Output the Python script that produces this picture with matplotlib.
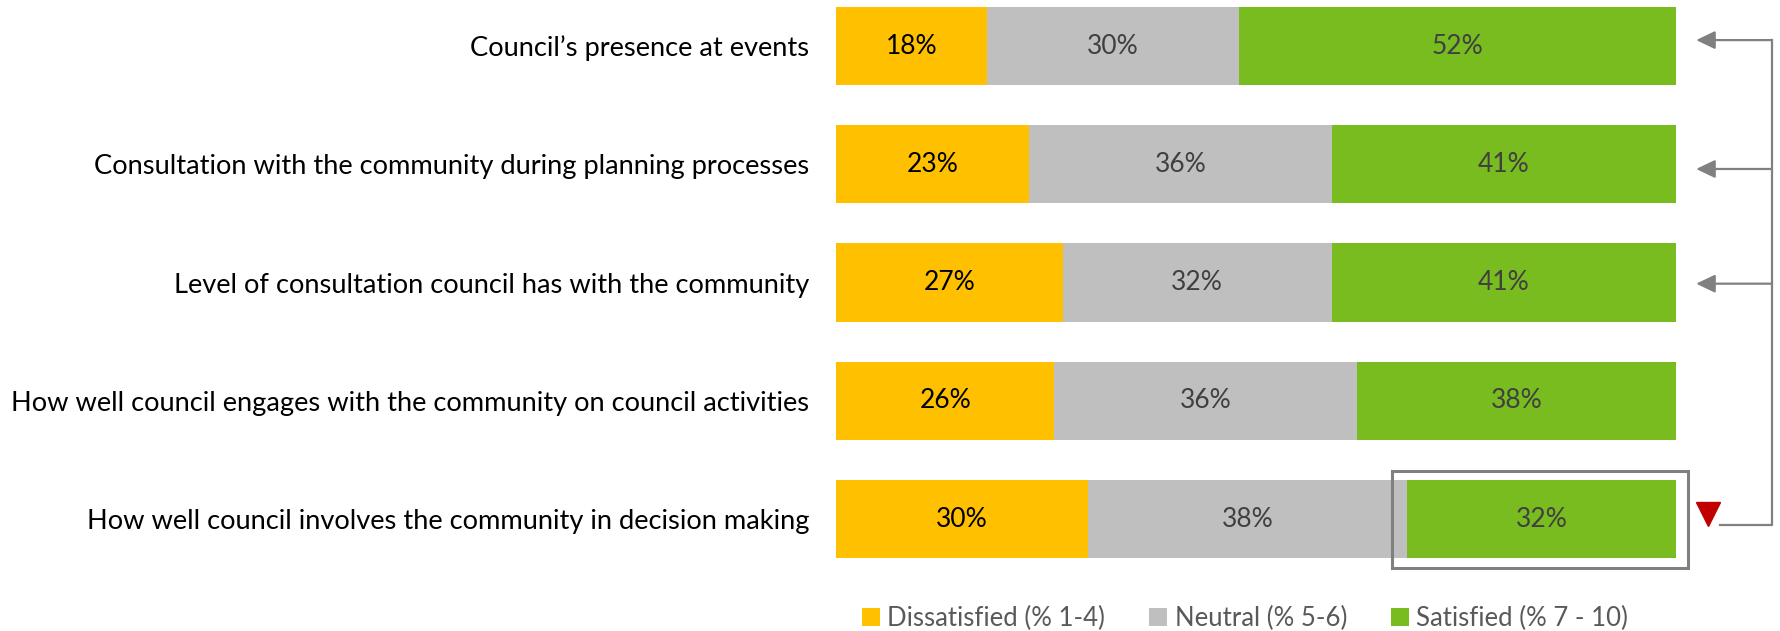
import matplotlib.pyplot as plt
from matplotlib.patches import Rectangle, Patch

categories = [
    "Council\u2019s presence at events",
    "Consultation with the community during planning processes",
    "Level of consultation council has with the community",
    "How well council engages with the community on council activities",
    "How well council involves the community in decision making",
]
dissatisfied = [18, 23, 27, 26, 30]
neutral = [30, 36, 32, 36, 38]
satisfied = [52, 41, 41, 38, 32]
series_names = ["Dissatisfied (% 1-4)", "Neutral (% 5-6)", "Satisfied (% 7 - 10)"]
colors = ["#FFC000", "#BFBFBF", "#78BC1F"]
text_colors = ["#000000", "#404040", "#404040"]

plt.rcParams['font.family'] = ['Lato', 'DejaVu Sans']

fig = plt.figure(figsize=(17.81, 6.31), dpi=100)
ax = fig.add_axes([836 / 1781, 0, 840 / 1781, 1])

y = list(range(len(categories)))
left = [0] * len(categories)
for vals, col, tcol in zip([dissatisfied, neutral, satisfied], colors, text_colors):
    bars = ax.barh(y, vals, left=left, height=0.66, color=col, edgecolor='none')
    for b, v in zip(bars, vals):
        ax.text(b.get_x() + b.get_width() / 2, b.get_y() + b.get_height() / 2,
                f"{v}%", ha='center', va='center', fontsize=19, color=tcol)
    left = [l + v for l, v in zip(left, vals)]

ax.set_xlim(0, 100)
ax.set_ylim(4.947, -0.389)
ax.set_yticks(y)
ax.set_yticklabels(categories, fontsize=19.6, color='#000000')
ax.tick_params(axis='y', length=0, pad=19)
ax.set_xticks([])
for s in ax.spines.values():
    s.set_visible(False)

# highlight box around the last satisfied segment
last = len(categories) - 1
box_x0 = dissatisfied[last] + neutral[last] - 1.8
ax.add_patch(Rectangle((box_x0, last - 0.406), 101.4 - box_x0, 0.82,
                       fill=False, edgecolor='#808080', lw=2.2, clip_on=False))

# red down triangle and bracket with arrows
ax.plot([103.8], [last - 0.04], marker='v', ms=17, color='#C00000',
        linestyle='none', clip_on=False)
ax.plot([105.2, 111.4, 111.4], [last + 0.05, last + 0.05, -0.05],
        color='#808080', lw=1.6, clip_on=False)
for yy in [-0.05, 1.04, 2.01]:
    ax.annotate('', xy=(102.4, yy), xytext=(111.4, yy),
                arrowprops=dict(arrowstyle='-|>,head_length=1.15,head_width=0.55',
                                mutation_scale=10, color='#808080', lw=1.6,
                                shrinkA=0, shrinkB=0),
                annotation_clip=False)

handles = [Patch(facecolor=c, edgecolor='none') for c in colors]
leg = fig.legend(handles, series_names, loc='center', ncol=3,
                 bbox_to_anchor=(1245 / 1781, 1 - 618 / 631), frameon=False,
                 handlelength=0.7, handleheight=0.7, handletextpad=0.3,
                 columnspacing=1.7, prop={'size': 18.5})
for t in leg.get_texts():
    t.set_color('#595959')

fig.savefig("out.png", dpi=100)
